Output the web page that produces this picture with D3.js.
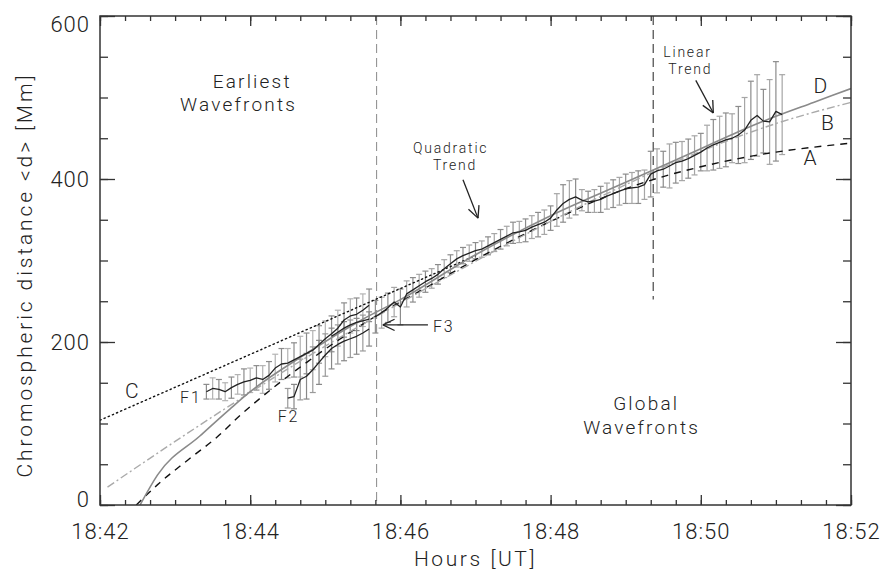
<!DOCTYPE html>
<html>
<head>
<meta charset="utf-8">
<script src="https://cdn.jsdelivr.net/npm/d3@7"></script>
<style>
  body { margin: 0; background: #fff; }
  text { font-family: Roboto, "DejaVu Sans", sans-serif; font-weight: 300; fill: #222; }
</style>
</head>
<body>
<svg id="chart" width="885" height="570"></svg>
<script>
// ---- axis labels -------------------------------------------------------
const xTickLabels = ["18:42", "18:44", "18:46", "18:48", "18:50", "18:52"];
const yTickLabels = [0, 200, 400, 600];

// ---- global wavefront track (time, distance, 1-sigma) ------------------
const globalTimes = [
  "18:45:40","18:45:45","18:45:50","18:45:55","18:46:00","18:46:05","18:46:10","18:46:15",
  "18:46:20","18:46:25","18:46:30","18:46:35","18:46:40","18:46:45","18:46:50","18:46:55",
  "18:47:00","18:47:05","18:47:10","18:47:15","18:47:20","18:47:25","18:47:30","18:47:35",
  "18:47:40","18:47:45","18:47:50","18:47:55","18:48:00","18:48:05","18:48:10","18:48:15",
  "18:48:20","18:48:25","18:48:30","18:48:35","18:48:40","18:48:45","18:48:50","18:48:55",
  "18:49:00","18:49:05","18:49:10","18:49:15","18:49:20","18:49:25","18:49:30","18:49:35",
  "18:49:40","18:49:45","18:49:50","18:49:55","18:50:00","18:50:05","18:50:10","18:50:15",
  "18:50:20","18:50:25","18:50:30","18:50:35","18:50:40","18:50:45","18:50:50","18:50:55",
  "18:51:00","18:51:05"];
const globalValues = [
  231,236,242,249,243,259,264,269,
  274,278,283,290,296,302,306,309,
  312,314,318,322,326,330,334,335,
  337,341,344,347,352,362,370,375,
  378,374,372,373,375,379,382,385,
  388,389,390,393,406,410,412,416,
  420,422,425,429,433,438,442,445,
  448,450,454,460,472,478,471,470,
  483,479];
const globalErrors = [
  20,19,18,18,22,16,15,14,
  13,12,12,11,11,10,10,10,
  10,10,11,11,12,12,13,13,
  14,14,15,15,15,20,23,23,
  22,13,13,14,16,16,17,17,
  18,19,20,18,28,27,22,27,
  25,24,24,24,23,28,31,32,
  33,30,35,40,48,50,39,52,
  61,49];

// ---- earliest fronts F1, F2, F3 ----------------------------------------
const f1Times = [
  "18:43:25","18:43:30","18:43:35","18:43:40","18:43:45","18:43:50","18:43:55","18:44:00",
  "18:44:05","18:44:10","18:44:15","18:44:20","18:44:25","18:44:30","18:44:35","18:44:40",
  "18:44:45","18:44:50","18:44:55","18:45:00","18:45:05","18:45:10","18:45:15","18:45:20",
  "18:45:25","18:45:30","18:45:35"];
const f1Values = [
  139,143,142,139,144,148,151,153,
  156,154,159,168,173,174,178,182,
  186,190,197,204,210,217,227,232,
  234,239,245];
const f1Errors = [
  9,13,12,11,13,12,16,15,
  15,17,17,17,19,18,21,25,
  25,24,23,22,22,22,21,21,
  20,20,20];

const f2Times = [
  "18:44:30","18:44:35","18:44:40","18:44:45","18:44:50","18:44:55","18:45:00","18:45:05",
  "18:45:10","18:45:15","18:45:20","18:45:25","18:45:30","18:45:35"];
const f2Values = [131,133,154,158,166,175,184,192,197,201,204,207,211,216];
const f2Errors = [12,15,25,28,28,27,26,25,24,24,23,22,22,21];

const f3Times = ["18:45:05","18:45:10","18:45:15","18:45:20","18:45:25","18:45:30","18:45:35"];
const f3Values = [207,212,217,221,224,226,228];

// ---- kinematic fits ----------------------------------------------------
const fitATimes = ["18:42:29","18:42:46","18:43:10","18:43:34","18:43:52","18:44:16","18:44:46",
  "18:45:15","18:45:45","18:46:15","18:47:00","18:48:00","18:49:00","18:49:30","18:50:00",
  "18:50:30","18:51:00","18:51:30","18:52:00"];
const fitAValues = [0,25,55,84,110,141,176,207,236,262,301,348,388,403,415,425,433,439,444];

const fitBTimes = ["18:42:06","18:43:00","18:44:00","18:45:00","18:46:00","18:47:00","18:48:00",
  "18:49:00","18:50:00","18:51:00","18:52:00"];
const fitBValues = [22,78,138,195,248,299,348,393,434,468,494];

const fitCTimes = ["18:42:00","18:47:00"];
const fitCValues = [104,306];

const fitDTimes = ["18:42:32","18:42:46","18:43:20","18:43:44","18:44:00","18:44:43",
  "18:45:30","18:46:00","18:47:00","18:48:00","18:49:00","18:49:22","18:50:00","18:50:30",
  "18:51:00","18:51:30","18:52:00"];
const fitDValues = [0,37,85,118,139,184,228,252,307,355,396,411,437,458,477,494,511];

// ---- phase boundaries --------------------------------------------------
const boundaryTimes = ["18:45:41", "18:49:22"];
const boundaryFrom = [0, 252];

// =======================================================================
const parseT = d3.timeParse("%H:%M:%S");
const svg = d3.select("#chart");
const W = 885, H = 570;
const m = { left: 100, right: 34, top: 16, bottom: 65 };

const x = d3.scaleTime()
  .domain([parseT("18:42:00"), parseT("18:52:00")])
  .range([m.left, W - m.right]);
const y = d3.scaleLinear().domain([0, 600]).range([H - m.bottom, m.top]);

const zip = (ts, vs, es) => ts.map((t, i) => ({ t: parseT(t), v: vs[i], e: es ? es[i] : 0 }));
const globalData = zip(globalTimes, globalValues, globalErrors);
const f1Data = zip(f1Times, f1Values, f1Errors);
const f2Data = zip(f2Times, f2Values, f2Errors);
const f3Data = zip(f3Times, f3Values);

svg.append("clipPath").attr("id", "plotClip")
  .append("rect")
  .attr("x", m.left).attr("y", m.top)
  .attr("width", W - m.left - m.right).attr("height", H - m.top - m.bottom);

const plot = svg.append("g").attr("clip-path", "url(#plotClip)");

// phase boundaries
boundaryTimes.forEach((t, i) => {
  plot.append("line")
    .attr("x1", x(parseT(t))).attr("x2", x(parseT(t)))
    .attr("y1", y(600)).attr("y2", y(boundaryFrom[i]))
    .attr("stroke", i === 0 ? "#8a8a8a" : "#555")
    .attr("stroke-width", i === 0 ? 1 : 1.3)
    .attr("stroke-dasharray", "9,5");
});

// error bars
function errorBars(data, shades) {
  const g = plot.append("g");
  const cap = 3;
  data.forEach((d, i) => {
    const cx = x(d.t), y0 = y(d.v - d.e), y1 = y(d.v + d.e);
    const col = shades[i % shades.length];
    g.append("line").attr("x1", cx).attr("x2", cx).attr("y1", y0).attr("y2", y1)
      .attr("stroke", col).attr("stroke-width", 1.2);
    [y0, y1].forEach(yy => g.append("line")
      .attr("x1", cx - cap).attr("x2", cx + cap).attr("y1", yy).attr("y2", yy)
      .attr("stroke", col).attr("stroke-width", 1.2));
  });
}
errorBars(f1Data, ["#8c8c8c", "#b3b3b3"]);
errorBars(f2Data, ["#9a9a9a", "#888"]);
errorBars(globalData, ["#8c8c8c", "#a6a6a6"]);

// fits
const smooth = d3.line().x(d => x(d.t)).y(d => y(d.v)).curve(d3.curveMonotoneX);
const straight = d3.line().x(d => x(d.t)).y(d => y(d.v));

plot.append("path").datum(zip(fitCTimes, fitCValues))
  .attr("d", straight).attr("fill", "none")
  .attr("stroke", "#111").attr("stroke-width", 1.4)
  .attr("stroke-dasharray", "1.3,3.2").attr("stroke-linecap", "round");
plot.append("path").datum(zip(fitATimes, fitAValues))
  .attr("d", smooth).attr("fill", "none")
  .attr("stroke", "#111").attr("stroke-width", 1.4).attr("stroke-dasharray", "7,6");
plot.append("path").datum(zip(fitBTimes, fitBValues))
  .attr("d", smooth).attr("fill", "none")
  .attr("stroke", "#aaa").attr("stroke-width", 1.4).attr("stroke-dasharray", "8,3,2,3");
plot.append("path").datum(zip(fitDTimes, fitDValues))
  .attr("d", smooth).attr("fill", "none")
  .attr("stroke", "#8a8a8a").attr("stroke-width", 1.6);

// measured fronts
[f1Data, f2Data, f3Data, globalData].forEach(data => {
  plot.append("path").datum(data)
    .attr("d", straight).attr("fill", "none")
    .attr("stroke", "#222").attr("stroke-width", 1.3).attr("stroke-linejoin", "round");
});

// ---- frame and axes ----------------------------------------------------
const majorX = xTickLabels.map(s => parseT(s + ":00"));
const minorX = x.ticks(d3.timeSecond.every(20));
const minorY = d3.range(0, 601, 50);

function styleAxis(g) {
  g.select(".domain").remove();
  g.selectAll("line").attr("stroke", "#333").attr("stroke-width", 1.3);
  g.selectAll("text").attr("font-size", 22).attr("fill", "#222")
    .style("font-family", "Roboto, 'DejaVu Sans', sans-serif").style("font-weight", 300)
    .attr("letter-spacing", 1);
}

// bottom
svg.append("g").attr("transform", `translate(0,${y(0)})`)
  .call(d3.axisBottom(x).tickValues(minorX).tickSize(-5).tickFormat(""))
  .call(styleAxis);
svg.append("g").attr("transform", `translate(0,${y(0)})`)
  .call(d3.axisBottom(x).tickValues(majorX).tickSize(-10).tickPadding(18)
    .tickFormat(d3.timeFormat("%H:%M")))
  .call(styleAxis);
// top
svg.append("g").attr("transform", `translate(0,${y(600)})`)
  .call(d3.axisTop(x).tickValues(minorX).tickSize(-5).tickFormat(""))
  .call(styleAxis);
svg.append("g").attr("transform", `translate(0,${y(600)})`)
  .call(d3.axisTop(x).tickValues(majorX).tickSize(-10).tickFormat(""))
  .call(styleAxis);
// left
svg.append("g").attr("transform", `translate(${m.left},0)`)
  .call(d3.axisLeft(y).tickValues(minorY).tickSize(-8).tickFormat(""))
  .call(styleAxis);
const yAx = svg.append("g").attr("transform", `translate(${m.left},0)`)
  .call(d3.axisLeft(y).tickValues(yTickLabels).tickSize(-15).tickPadding(10))
  .call(styleAxis);
yAx.selectAll(".tick text").attr("transform", d => d === 600 ? "translate(0,8)" : d === 0 ? "translate(0,-6)" : null);
// right
svg.append("g").attr("transform", `translate(${W - m.right},0)`)
  .call(d3.axisRight(y).tickValues(minorY).tickSize(-8).tickFormat(""))
  .call(styleAxis);
svg.append("g").attr("transform", `translate(${W - m.right},0)`)
  .call(d3.axisRight(y).tickValues(yTickLabels).tickSize(-15).tickFormat(""))
  .call(styleAxis);

svg.append("rect")
  .attr("x", m.left).attr("y", m.top)
  .attr("width", W - m.left - m.right).attr("height", H - m.top - m.bottom)
  .attr("fill", "none").attr("stroke", "#333").attr("stroke-width", 1.5);

// axis titles
svg.append("text")
  .attr("transform", `translate(32,${(y(0) + y(600)) / 2 + 16}) rotate(-90)`)
  .attr("text-anchor", "middle").attr("font-size", 21)
  .attr("textLength", 402).attr("lengthAdjust", "spacing")
  .text("Chromospheric distance <d> [Mm]");
svg.append("text")
  .attr("x", (x.range()[0] + x.range()[1]) / 2).attr("y", 566)
  .attr("text-anchor", "middle").attr("font-size", 21).attr("letter-spacing", 2.6)
  .text("Hours [UT]");

// ---- annotations (placed in data coordinates) --------------------------
const notes = [
  { text: "Earliest",   t: "18:43:30", v: 512, size: 19 },
  { text: "Wavefronts", t: "18:43:04", v: 483, size: 19 },
  { text: "Global",     t: "18:48:50", v: 117, size: 19 },
  { text: "Wavefronts", t: "18:48:26", v: 87,  size: 19 },
  { text: "Quadratic",  t: "18:46:10", v: 432, size: 14 },
  { text: "Trend",      t: "18:46:26", v: 411, size: 14 },
  { text: "Linear",     t: "18:49:30", v: 550, size: 14 },
  { text: "Trend",      t: "18:49:34", v: 529, size: 14 },
  { text: "F1",         t: "18:43:04", v: 125, size: 16 },
  { text: "F2",         t: "18:44:22", v: 102, size: 16 },
  { text: "F3",         t: "18:46:26", v: 212, size: 16 },
  { text: "C",          t: "18:42:20", v: 131, size: 21 },
  { text: "D",          t: "18:51:30", v: 505, size: 21 },
  { text: "B",          t: "18:51:36", v: 460, size: 21 },
  { text: "A",          t: "18:51:22", v: 417, size: 21 }
];
svg.selectAll("text.note").data(notes).join("text")
  .attr("class", "note")
  .attr("x", d => x(parseT(d.t))).attr("y", d => y(d.v))
  .attr("font-size", d => d.size)
  .attr("letter-spacing", d => d.size >= 19 ? 2.2 : 1.8)
  .text(d => d.text);

const arrows = [
  { t0: "18:46:50", v0: 399, t1: "18:47:02", v1: 352 },
  { t0: "18:49:56", v0: 521, t1: "18:50:10", v1: 481 },
  { t0: "18:46:22", v0: 221, t1: "18:45:46", v1: 221 }
];
arrows.forEach(a => {
  const xa = x(parseT(a.t0)), ya = y(a.v0), xb = x(parseT(a.t1)), yb = y(a.v1);
  const ang = Math.atan2(yb - ya, xb - xa), L = 13, spread = 0.45;
  const g = svg.append("g").attr("stroke", "#222").attr("stroke-width", 1.3).attr("fill", "none");
  g.append("line").attr("x1", xa).attr("y1", ya).attr("x2", xb).attr("y2", yb);
  [-spread, spread].forEach(s => g.append("line")
    .attr("x1", xb).attr("y1", yb)
    .attr("x2", xb - L * Math.cos(ang + s)).attr("y2", yb - L * Math.sin(ang + s)));
});
</script>
</body>
</html>
